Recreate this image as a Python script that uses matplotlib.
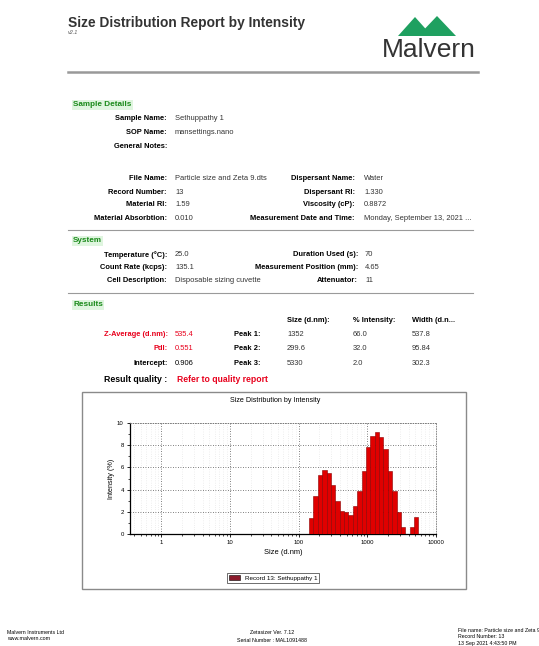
import matplotlib
matplotlib.use("Agg")
import matplotlib.pyplot as plt
from matplotlib.patches import Rectangle, Polygon, Patch
from matplotlib.lines import Line2D
from matplotlib.ticker import FixedLocator, NullFormatter, LogLocator

plt.rcParams['font.family'] = ['Liberation Sans', 'DejaVu Sans']

W, H = 539, 646

# ---- report data ----
sample_labels = ["Sample Name:", "SOP Name:", "General Notes:"]
sample_values = ["Sethuppathy 1", "mansettings.nano", ""]

file_labels = ["File Name:", "Record Number:", "Material RI:", "Material Absorbtion:"]
file_values = ["Particle size and Zeta 9.dts", "13", "1.59", "0.010"]
disp_labels = ["Dispersant Name:", "Dispersant RI:", "Viscosity (cP):", "Measurement Date and Time:"]
disp_values = ["Water", "1.330", "0.8872", "Monday, September 13, 2021 ..."]

system_labels = ["Temperature (\u00b0C):", "Count Rate (kcps):", "Cell Description:"]
system_values = ["25.0", "135.1", "Disposable sizing cuvette"]
system_labels2 = ["Duration Used (s):", "Measurement Position (mm):", "Attenuator:"]
system_values2 = ["70", "4.65", "11"]

result_labels = ["Z-Average (d.nm):", "PdI:", "Intercept:"]
result_values = ["535.4", "0.551", "0.906"]
result_colors = ["#e8001c", "#e8001c", "black"]
peak_names = ["Peak 1:", "Peak 2:", "Peak 3:"]
peak_columns = ["Size (d.nm):", "% Intensity:", "Width (d.n..."]
peak_size = ["1352", "299.6", "5330"]
peak_intensity = ["66.0", "32.0", "2.0"]
peak_width = ["537.8", "95.84", "302.3"]

# size classes (d.nm), lower edge of each bar plus the closing edge
size_classes = [141.8, 164.2, 190.1, 220.2, 255.0, 295.3, 342.0, 396.1, 458.7,
                531.2, 615.1, 712.4, 825.0, 955.4, 1106, 1281, 1484, 1718,
                1990, 2305, 2669, 3091, 3580, 4145, 4801, 5560]
intensity = [1.4, 3.4, 5.3, 5.8, 5.5, 4.4, 3.0, 2.1, 2.0, 1.7, 2.5, 3.9, 5.7,
             7.8, 8.8, 9.2, 8.7, 7.7, 5.7, 3.9, 2.0, 0.6, 0.0, 0.6, 1.5]
x_ticks = [1, 10, 100, 1000, 10000]
y_ticks = [0, 2, 4, 6, 8, 10]
series_name = "Record 13: Sethuppathy 1"

BODY = 5.4

fig = plt.figure(figsize=(W / 100, H / 100), dpi=100)
fig.patch.set_facecolor("white")


def fx(x):
    return x / W


def fy(y):
    return 1 - y / H


def txt(x, y, s, size=BODY, ha="left", color="black", weight="normal", **kw):
    fig.text(fx(x), fy(y), s, fontsize=size, ha=ha, va="center",
             color=color, fontweight=weight, **kw)


def hline(y, x0, x1, lw=0.8, color="#9a9a9a"):
    fig.add_artist(Line2D([fx(x0), fx(x1)], [fy(y), fy(y)], lw=lw, color=color,
                          transform=fig.transFigure))


def section(x, y, s):
    txt(x, y, s, size=5.9, color="#1a8a1a", weight="bold",
        bbox=dict(boxstyle="square,pad=0.15", fc="#dff5df", ec="none"))


# ---- header ----
txt(68, 23, "Size Distribution Report by Intensity", size=9.9, weight="bold", color="#333333")
txt(68, 33, "v2.1", size=4.0, color="#555555", style="italic")
fig.add_artist(Polygon([(fx(398), fy(36)), (fx(415), fy(17)), (fx(432), fy(36))],
                       closed=True, fc="#1fa060", ec="none", transform=fig.transFigure))
fig.add_artist(Polygon([(fx(418), fy(36)), (fx(437), fy(16)), (fx(456), fy(36))],
                       closed=True, fc="#1fa060", ec="none", transform=fig.transFigure))
txt(429, 50, "Malvern", size=19, ha="center", color="#333333")
hline(72, 68, 478, lw=1.8, color="#999999")

# ---- sample details ----
section(73, 105, "Sample Details")
for i, (lab, val) in enumerate(zip(sample_labels, sample_values)):
    y = 119 + i * 14
    txt(167, y, lab, weight="bold", ha="right")
    txt(175, y, val, color="#333333")

for i in range(4):
    y = 179 + i * 13
    txt(167, y, file_labels[i], weight="bold", ha="right")
    txt(175, y, file_values[i], color="#333333")
    txt(355, y, disp_labels[i], weight="bold", ha="right")
    txt(364, y, disp_values[i], color="#333333")
hline(230, 68, 473)

# ---- system ----
section(73, 241, "System")
for i in range(3):
    y = 255 + i * 12.5
    txt(167, y, system_labels[i], weight="bold", ha="right")
    txt(175, y, system_values[i], color="#333333")
    txt(358, y, system_labels2[i], weight="bold", ha="right")
    txt(365, y, system_values2[i], color="#333333")
hline(293, 68, 473)

# ---- results ----
section(73, 305, "Results")
for x, s in zip([287, 353, 412], peak_columns):
    txt(x, 321, s, weight="bold")
for i in range(3):
    y = 335 + i * 14
    txt(168, y, result_labels[i], weight="bold", ha="right", color=result_colors[i])
    txt(175, y, result_values[i], color=result_colors[i])
    txt(261, y, peak_names[i], weight="bold", ha="right")
    txt(287, y, peak_size[i], color="#333333")
    txt(353, y, peak_intensity[i], color="#333333")
    txt(412, y, peak_width[i], color="#333333")
txt(167, 379, "Result quality :", size=6.3, weight="bold", ha="right")
txt(177, 379, "Refer to quality report", size=6.2, weight="bold", color="#e8001c")

# ---- chart frame ----
fig.add_artist(Rectangle((fx(82), fy(589)), fx(466) - fx(82), fy(392) - fy(589),
                         fill=False, ec="#8a8a8a", lw=1.0, transform=fig.transFigure))
txt(275, 400, "Size Distribution by Intensity", size=5.1, ha="center")

ax = fig.add_axes([fx(130), fy(534), fx(436) - fx(130), fy(423) - fy(534)])
lefts = size_classes[:-1]
widths = [b - a for a, b in zip(size_classes[:-1], size_classes[1:])]
ax.bar(lefts, intensity, width=widths, align="edge", color="#e00000",
       edgecolor="#8a0000", linewidth=0.4, zorder=3)
ax.set_xscale("log")
ax.set_xlim(0.35, 10000)
ax.set_ylim(0, 10)
ax.xaxis.set_major_locator(FixedLocator(x_ticks))
ax.set_xticklabels([str(t) for t in x_ticks])
ax.xaxis.set_minor_locator(LogLocator(base=10, subs=range(2, 10)))
ax.xaxis.set_minor_formatter(NullFormatter())
ax.yaxis.set_major_locator(FixedLocator(y_ticks))
ax.set_yticklabels([str(t) for t in y_ticks])
ax.yaxis.set_minor_locator(FixedLocator([1, 3, 5, 7, 9]))
ax.tick_params(axis="both", which="major", labelsize=4.3, length=2.5, width=0.6, pad=2)
ax.tick_params(axis="both", which="minor", length=1.5, width=0.5)
ax.grid(True, which="major", ls=(0, (1, 2)), color="#555555", lw=0.6, zorder=0)
ax.grid(True, which="minor", axis="x", ls=(0, (1, 3)), color="#cccccc", lw=0.4, zorder=0)
for side in ["top", "right"]:
    ax.spines[side].set_linestyle((0, (1, 2)))
    ax.spines[side].set_color("#777777")
    ax.spines[side].set_linewidth(0.6)
for side in ["left", "bottom"]:
    ax.spines[side].set_linewidth(0.9)
ax.set_xlabel("Size (d.nm)", fontsize=5.4, labelpad=3)
ax.set_ylabel("Intensity (%)", fontsize=5.2, labelpad=1.5)

leg = fig.legend(handles=[Patch(fc="#8b1a2b", ec="black", lw=0.4, label=series_name)],
                 loc="center", bbox_to_anchor=(fx(273), fy(578)), fontsize=4.5,
                 frameon=True, fancybox=False, edgecolor="black",
                 handlelength=1.8, handleheight=0.9, borderpad=0.3)
leg.get_frame().set_linewidth(0.5)

# ---- footer ----
txt(7, 632, "Malvern Instruments Ltd", size=3.8)
txt(7, 639, "www.malvern.com", size=3.8)
txt(272, 633, "Zetasizer Ver. 7.12", size=3.8, ha="center")
txt(272, 640, "Serial Number : MAL1091488", size=3.8, ha="center")
txt(458, 630, "File name: Particle size and Zeta 9", size=3.8)
txt(458, 637, "Record Number: 13", size=3.8)
txt(458, 644, "13 Sep 2021 4:43:50 PM", size=3.8)

fig.savefig("out.png", dpi=100, facecolor="white")
